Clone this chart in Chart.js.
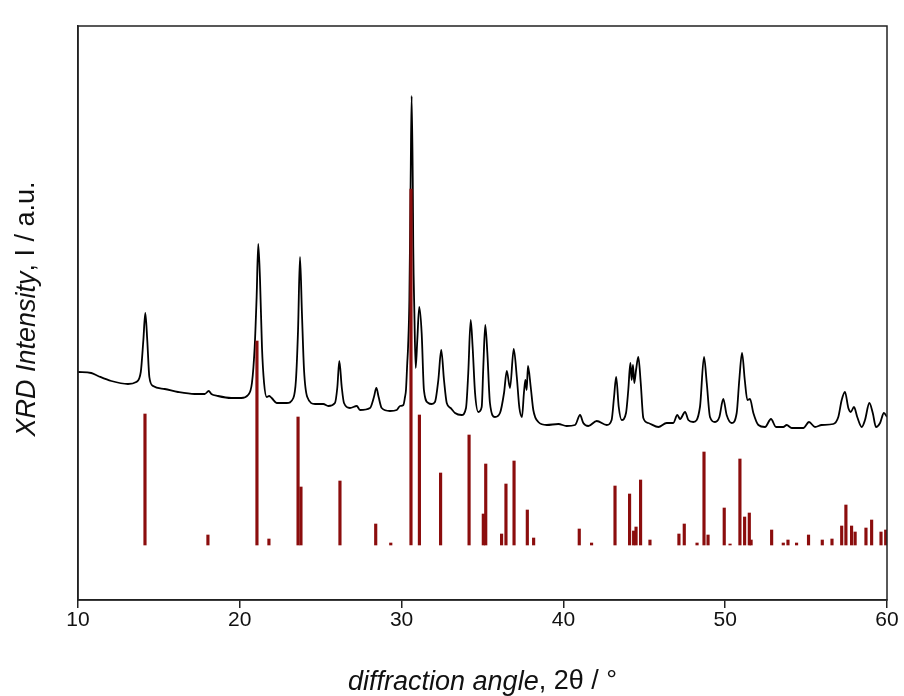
<!DOCTYPE html>
<html lang="en">
<head>
    <meta charset="UTF-8">
    <title>XRD pattern</title>
    <script src="https://cdn.jsdelivr.net/npm/chart.js"></script>
    <style>
        html, body { margin: 0; padding: 0; background: #fff; }
        .chart-box { width: 904px; height: 696px; }
    </style>
</head>
<body>
    <div class="chart-box">
        <canvas id="xrdChart" width="904" height="696"></canvas>
    </div>
    <script>
    // measured pattern (2theta in deg, intensity in a.u.)
    const angles = [10.00, 10.82, 11.24, 12.06, 13.09, 13.60, 13.88, 14.04, 14.16, 14.28, 14.41, 14.64, 15.36, 16.18, 17.21, 17.83, 18.08, 18.24, 18.65, 19.47,
        20.09, 20.51, 20.75, 20.92, 21.04, 21.14, 21.25, 21.37, 21.50, 21.66, 21.82, 21.97, 22.28, 22.90, 23.31, 23.47, 23.60, 23.72, 23.84, 23.97,
        24.17, 24.65, 25.16, 25.47, 25.88, 26.03, 26.15, 26.30, 26.44, 26.81, 27.23, 27.43, 28.05, 28.29, 28.44, 28.58, 28.77, 29.28, 29.70, 29.90,
        30.11, 30.21, 30.27, 30.35, 30.40, 30.48, 30.56, 30.62, 30.69, 30.72, 30.79, 30.87, 30.97, 31.09, 31.24, 31.38, 31.65, 31.86, 32.06, 32.27,
        32.45, 32.62, 32.79, 33.03, 33.30, 33.71, 33.98, 34.12, 34.27, 34.39, 34.54, 34.74, 34.95, 35.05, 35.17, 35.30, 35.46, 35.77, 36.08, 36.33,
        36.50, 36.70, 36.93, 37.12, 37.28, 37.44, 37.56, 37.65, 37.73, 37.81, 37.98, 38.14, 38.45, 38.97, 39.69, 40.20, 40.72, 41.03, 41.23, 41.54,
        42.06, 42.68, 42.98, 43.13, 43.26, 43.42, 43.60, 43.87, 44.01, 44.14, 44.22, 44.30, 44.38, 44.49, 44.63, 44.78, 44.94, 45.25, 45.87, 46.38,
        46.79, 47.04, 47.21, 47.52, 47.72, 48.03, 48.44, 48.69, 48.86, 49.06, 49.37, 49.64, 49.88, 50.09, 50.40, 50.71, 50.87, 51.04, 51.21, 51.37,
        51.53, 51.74, 52.05, 52.46, 52.83, 53.14, 53.59, 53.80, 54.11, 54.83, 55.18, 55.55, 55.96, 56.68, 56.99, 57.20, 57.40, 57.61, 57.76, 57.96,
        58.16, 58.44, 58.64, 58.91, 59.12, 59.32, 59.57, 59.81, 60.00];
    const intensities = [228, 227, 224, 219, 216, 218, 228, 260, 287, 260, 223, 214, 211, 208, 206, 206, 209, 206, 204, 202,
        202, 205, 217, 253, 303, 356, 320, 253, 217, 203, 204, 202, 197, 197, 202, 220, 270, 343, 287, 230,
        203, 196, 196, 194, 197, 213, 239, 213, 197, 192, 194, 190, 192, 203, 212, 203, 192, 189, 190, 194,
        195, 203, 210, 237, 253, 300, 420, 504, 420, 353, 287, 232, 260, 293, 267, 210, 197, 196, 198, 220,
        250, 220, 197, 192, 187, 185, 192, 227, 280, 253, 207, 188, 193, 233, 275, 247, 197, 183, 187, 207,
        229, 212, 251, 223, 192, 183, 207, 220, 210, 234, 213, 190, 178, 175, 176, 174, 175, 185, 177, 174,
        179, 175, 180, 203, 223, 193, 180, 187, 210, 237, 220, 235, 217, 230, 243, 217, 182, 177, 173, 177,
        177, 185, 181, 188, 180, 178, 193, 243, 217, 183, 178, 183, 201, 185, 177, 187, 220, 247, 220, 200,
        201, 187, 175, 173, 181, 173, 173, 175, 172, 172, 178, 173, 175, 176, 183, 200, 208, 192, 188, 193,
        183, 173, 180, 197, 187, 173, 177, 187, 183];

    // reference pattern sticks
    const stickAngles = [14.14, 18.03, 21.06, 21.80, 23.60, 23.78, 26.19, 28.40, 29.33, 30.58, 31.10, 32.41, 34.17, 35.05, 35.20, 36.18, 36.45, 36.95, 37.77, 38.16,
        40.98, 41.74, 43.19, 44.09, 44.34, 44.49, 44.77, 45.35, 47.14, 47.47, 48.26, 48.69, 48.94, 49.94, 50.30, 50.91, 51.20, 51.49, 51.60, 52.87,
        53.59, 53.88, 54.41, 55.15, 56.00, 56.60, 57.20, 57.46, 57.81, 58.03, 58.70, 59.05, 59.63, 59.92];
    const stickTops = [186, 65, 259, 61, 183, 113, 119, 76, 57, 411, 185, 127, 165, 86, 136, 66, 116, 139, 90, 62,
        71, 57, 114, 106, 69, 73, 120, 60, 66, 76, 57, 148, 65, 92, 56, 141, 83, 87, 60, 70,
        57, 60, 57, 65, 60, 61, 74, 95, 74, 68, 72, 80, 68, 70];
    const stickBase = 55;

    const xTicks = [10, 20, 30, 40, 50, 60];
    const xLabel = [['diffraction angle', 'italic'], [', 2\u03B8 / \u00B0', 'normal']];
    const yLabel = [['XRD Intensity', 'italic'], [', I / a.u.', 'normal']];

    const FONT = '"Liberation Sans", Arial, sans-serif';

    function drawMixed(ctx, parts, size) {
        let total = 0;
        parts.forEach(p => { ctx.font = p[1] + ' ' + size + 'px ' + FONT; total += ctx.measureText(p[0]).width; });
        let x = -total / 2;
        parts.forEach(p => {
            ctx.font = p[1] + ' ' + size + 'px ' + FONT;
            ctx.fillText(p[0], x, 0);
            x += ctx.measureText(p[0]).width;
        });
    }

    // frame + axis titles
    const framePlugin = {
        id: 'frame',
        afterDraw(chart) {
            const a = chart.chartArea;
            const ctx = chart.ctx;
            ctx.save();
            ctx.strokeStyle = '#222';
            ctx.lineWidth = 1.5;
            ctx.strokeRect(a.left, a.top, a.right - a.left, a.bottom - a.top);
            ctx.fillStyle = '#111';
            ctx.textBaseline = 'middle';
            ctx.translate((a.left + a.right) / 2, 682);
            drawMixed(ctx, xLabel, 27);
            ctx.restore();
            ctx.save();
            ctx.fillStyle = '#111';
            ctx.textBaseline = 'middle';
            ctx.translate(27, (a.top + a.bottom) / 2 - 4);
            ctx.rotate(-Math.PI / 2);
            drawMixed(ctx, yLabel, 27);
            ctx.restore();
        }
    };

    new Chart(document.getElementById('xrdChart').getContext('2d'), {
        data: {
            datasets: [{
                type: 'bar',
                data: stickAngles.map((a, i) => ({ x: a, y: [stickBase, stickTops[i]] })),
                backgroundColor: '#8b0d0d',
                barThickness: 2.5,
                order: 0
            }, {
                type: 'line',
                data: angles.map((a, i) => ({ x: a, y: intensities[i] })),
                borderColor: '#000',
                borderWidth: 1.8,
                pointRadius: 0,
                cubicInterpolationMode: 'monotone',
                order: 1
            }]
        },
        options: {
            responsive: false,
            animation: false,
            layout: { padding: { top: 26, right: 17, left: 0, bottom: 0 } },
            plugins: { legend: { display: false }, tooltip: { enabled: false } },
            scales: {
                x: {
                    type: 'linear',
                    min: 10,
                    max: 60,
                    offset: false,
                    afterBuildTicks: s => { s.ticks = xTicks.map(v => ({ value: v })); },
                    afterFit: s => { s.height = 96; },
                    grid: { display: true, offset: false, drawOnChartArea: false, drawTicks: true, tickLength: 8, color: '#222', lineWidth: 1.5 },
                    border: { display: true, color: '#222', width: 1.5 },
                    ticks: { color: '#111', padding: 0, font: { family: FONT, size: 21 } }
                },
                y: {
                    min: 0,
                    max: 574,
                    afterFit: s => { s.width = 78; },
                    grid: { display: false },
                    border: { display: true, color: '#222', width: 1.5 },
                    ticks: { display: false }
                }
            }
        },
        plugins: [framePlugin]
    });
    </script>
</body>
</html>
